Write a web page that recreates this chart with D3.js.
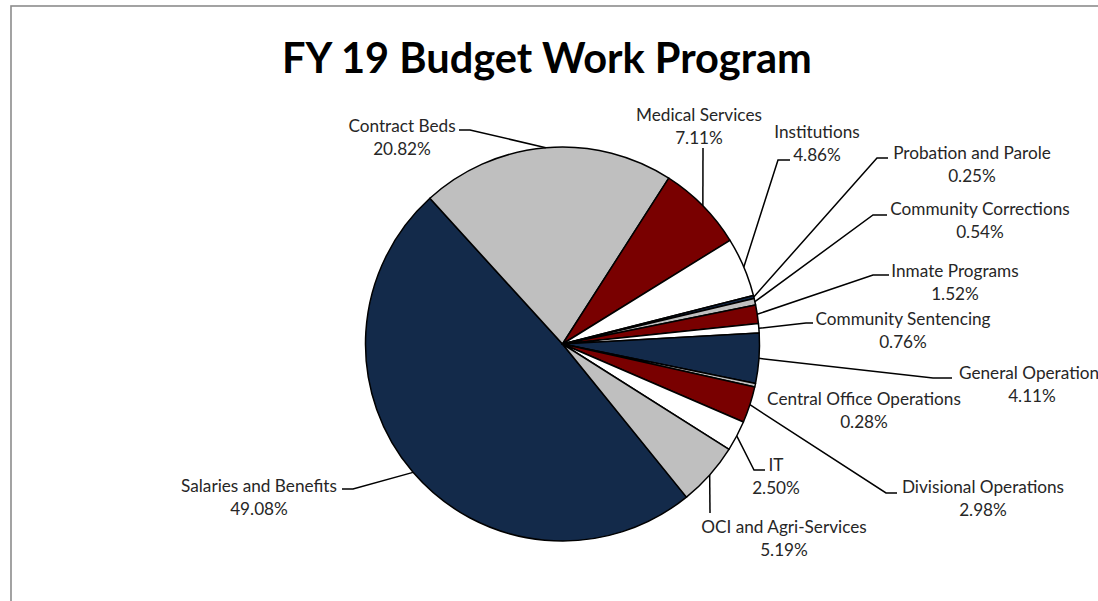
<!DOCTYPE html>
<html><head><meta charset="utf-8">
<script src="https://cdn.jsdelivr.net/npm/d3@7"></script>
<style>html,body{margin:0;padding:0;background:#fff;overflow:hidden}</style>
</head><body><svg id="c" width="1098" height="601"></svg>
<script>
// ---- data ----
const title = "FY 19 Budget Work Program";
const categories = ["Salaries and Benefits","Contract Beds","Medical Services","Institutions","Probation and Parole","Community Corrections","Inmate Programs","Community Sentencing","General Operation","Central Office Operations","Divisional Operations","IT","OCI and Agri-Services"];
const values = [49.08,20.82,7.11,4.86,0.25,0.54,1.52,0.76,4.11,0.28,2.98,2.50,5.19];

// ---- styles / layout ----
const sliceColors = ["#132a4a","#bfbfbf","#790000","#ffffff","#132a4a","#bfbfbf","#790000","#ffffff","#132a4a","#bfbfbf","#790000","#ffffff","#bfbfbf"];
const cx = 562.5, cy = 344, R = 197;
const firstAngleDeg = 141;
// label centre (first line) and leader elbow points (from pie edge outwards)
const labelLayout = [
  {x:259, y:486, leader:[[353,489],[342,489]]},
  {x:402, y:126, leader:[[470,130],[459,130]]},
  {x:699, y:115, leader:[[703,148]]},
  {x:817, y:132, leader:[[778,160],[790,160]]},
  {x:972, y:153, leader:[[877,158],[888,158]]},
  {x:980, y:209, leader:[[873,215],[887,215]]},
  {x:955, y:271, leader:[[873,275],[889,275]]},
  {x:903, y:319, leader:[[806,323],[813,323]]},
  {x:959, anchor:"start", x2:1032, y:373, leader:[[933,378],[952,378]]},
  {x:864, y:399, leader:null},
  {x:983, y:487, leader:[[886,493],[897,493]]},
  {x:776, y:465, leader:[[754,470],[765,470]]},
  {x:784, y:527, leader:[[710,513]]}
];
const lineGap = 22.5;
const fontFam = "Lato, 'Liberation Sans', sans-serif";

const svg = d3.select("#c");
svg.append("rect").attr("x",11).attr("y",6).attr("width",1200).attr("height",700)
  .attr("fill","#fff").attr("stroke","#8c8c8c").attr("stroke-width",1.6);

// fit font sizes to reference widths
function fitSize(str, weight, target){
  const t = svg.append("text").attr("font-family",fontFam).attr("font-weight",weight).attr("font-size",20).text(str);
  const w = t.node().getComputedTextLength(); t.remove();
  return 20*target/w;
}
const labelSize = fitSize("Salaries and Benefits","normal",156);
const titleSize = fitSize(title,"bold",530);

svg.append("text").attr("x",547).attr("y",73).attr("text-anchor","middle")
  .attr("font-family",fontFam).attr("font-weight","bold").attr("font-size",titleSize)
  .attr("fill","#000").text(title);

const rad = d=>d*Math.PI/180;
const pie = d3.pie().sort(null).value(d=>d.v)
  .startAngle(rad(firstAngleDeg)).endAngle(rad(firstAngleDeg+360));
const data = categories.map((c,i)=>({c, v:values[i], i}));
const arcs = pie(data);
const arc = d3.arc().innerRadius(0).outerRadius(R);

const g = svg.append("g").attr("transform",`translate(${cx},${cy})`);
g.selectAll("path").data(arcs).join("path")
  .attr("d",arc).attr("fill",d=>sliceColors[d.data.i])
  .attr("stroke","#000").attr("stroke-width",1.5).attr("stroke-linejoin","round");

// leader lines
const line = d3.line();
arcs.forEach(a=>{
  const L = labelLayout[a.data.i];
  if(!L.leader) return;
  const m = (a.startAngle+a.endAngle)/2;
  const p0 = [cx + R*Math.sin(m), cy - R*Math.cos(m)];
  svg.append("path").attr("d", line([p0, ...L.leader]))
    .attr("fill","none").attr("stroke","#000").attr("stroke-width",1.5);
});

// labels
const fmt = d3.format(".2f");
arcs.forEach(a=>{
  const L = labelLayout[a.data.i];
  const base = {"font-family":fontFam, "font-size":labelSize, "fill":"#262626"};
  const t1 = svg.append("text").attr("text-anchor",L.anchor||"middle")
    .attr("x",L.x).attr("y",L.y).attr("dy","0.35em").text(a.data.c);
  const t2 = svg.append("text").attr("text-anchor","middle")
    .attr("x",L.x2||L.x).attr("y",L.y+lineGap).attr("dy","0.35em").text(fmt(a.data.v)+"%");
  [t1,t2].forEach(t=>Object.entries(base).forEach(([k,v])=>t.attr(k,v)));
});
</script></body></html>
